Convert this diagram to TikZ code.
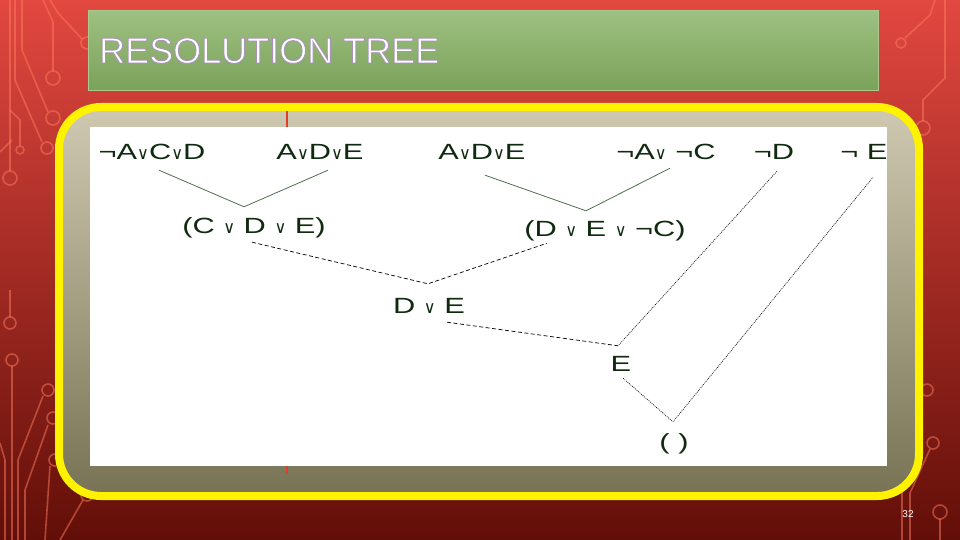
\documentclass[tikz,border=0pt]{standalone}
\usepackage{fontspec}
\setmainfont{Liberation Sans}
\newfontfamily\symfont{DejaVu Sans}
\usetikzlibrary{calc}

\definecolor{slidetop}{RGB}{226,72,64}
\definecolor{slidemid}{RGB}{196,52,46}
\definecolor{slidebot}{RGB}{98,14,8}
\definecolor{tracecol}{RGB}{255,125,95}
\definecolor{bartop}{RGB}{158,192,130}
\definecolor{barbot}{RGB}{122,162,89}
\definecolor{barline}{RGB}{172,200,142}
\definecolor{paneltop}{RGB}{208,201,178}
\definecolor{panelbot}{RGB}{120,115,84}
\definecolor{cltext}{RGB}{16,42,16}
\definecolor{edgegreen}{RGB}{80,110,80}
\definecolor{slideline}{RGB}{225,60,45}

\newcommand{\orv}{\scalebox{0.68}[1]{\symfont\fontsize{17}{17}\selectfont ∨}}
\newcommand{\widen}[1]{\scalebox{1.4}[1]{#1}}

\tikzset{
  clause/.style={inner sep=0pt, text height=16pt, text depth=0pt, text=cltext, font=\fontsize{22}{22}\selectfont},
  solidedge/.style={draw=edgegreen, line width=0.8pt},
  dashedge/.style={draw=black, line width=0.7pt, dash pattern=on 4pt off 2.5pt},
  dotedge/.style={draw=black, line width=0.6pt, dash pattern=on 1pt off 1pt},
  trace/.style={draw=tracecol, draw opacity=0.5, line width=1.6pt}
}

\begin{document}
\begin{tikzpicture}[x=1pt,y=-1pt]
\useasboundingbox (0,0) rectangle (960,540);
\shade[top color=slidetop, middle color=slidemid, bottom color=slidebot] (0,0) rectangle (960,540);

% circuit traces
\draw[trace] (43,0) -- (53,22) -- (53,71);
\draw[trace] (22,0) -- (22,50) -- (48,112);
\draw[trace] (15,0) -- (15,80) -- (42,142);
\draw[trace] (10,0) -- (10,171);
\draw[trace] (10,110) -- (20,120) -- (20,146);
\draw[trace] (0,152) -- (12,140);
\draw[trace] (50,0) -- (58,13) -- (82,39);
\draw[trace] (10,290) -- (10,317);
\draw[trace] (12,366) -- (12,540);
\draw[trace] (43,396) -- (18,460) -- (18,540);
\draw[trace] (48,425) -- (25,490) -- (25,540);
\draw[trace] (50,466) -- (45,540);
\draw[trace] (0,443) -- (5,460) -- (5,540);
\draw[trace] (83,500) -- (60,540);
\draw[trace] (905,38) -- (930,15) -- (935,0);
\draw[trace] (945,0) -- (945,78) -- (923,100) -- (923,121);
\draw[trace] (930,449) -- (910,493) -- (910,540);
\draw[trace] (902,480) -- (902,540);
\draw[trace] (940,519) -- (940,540);
\foreach \cx/\cy/\r in {53/78/7, 53/118/7, 47/148/6, 20/150/4, 10/178/7, 87/43/6,
  10/323/6, 12/360/6, 48/390/6, 53/418/6, 55/460/6, 87/495/6,
  901/43/5, 923/128/7, 927/390/6, 933/443/6, 940/512/7}
  \draw[trace] (\cx,\cy) circle[radius=\r];

% title bar
\shade[top color=bartop, bottom color=barbot, draw=barline, line width=1pt] (88,11) rectangle (878,91);

% panel
\shade[top color=paneltop, bottom color=panelbot, rounded corners=42pt] (59,107) rectangle (919,496);
\draw[yellow, line width=8pt, rounded corners=42pt] (59,107) rectangle (919,496);
\draw[slideline, line width=1.2pt] (287,111) -- (287,474);
\fill[white] (90,127) rectangle (887,466);

% clauses
\node[clause] (c1) at (152,152) {\widen{¬A\orv C\orv D}};
\node[clause] (c2) at (320,152) {\widen{A\orv D\orv E}};
\node[clause] (c3) at (482,152) {\widen{A\orv D\orv E}};
\node[clause] (c4) at (666,152) {\widen{¬A\orv{} ¬C}};
\node[clause] (c5) at (774,152) {\widen{¬D}};
\node[clause] (c6) at (864,152) {\widen{¬ E}};
\node[clause] (r1) at (254,225) {\widen{(C \orv{} D \orv{} E)}};
\node[clause] (r2) at (605,228) {\widen{(D \orv{} E \orv{} ¬C)}};
\node[clause] (r3) at (429,305) {\widen{D \orv{} E}};
\node[clause] (r4) at (621,363) {\widen{E}};
\node[clause] (r5) at (674,441) {\widen{( )}};

% resolution steps
\draw[solidedge] ($(c1.south)+(7,10)$) -- ($(r1.north)+(-10,-10)$) -- ($(c2.south)+(8,10)$);
\draw[solidedge] ($(c3.south)+(3,15)$) -- ($(r2.north)+(-19,-9)$) -- ($(c4.south)+(4,8)$);
\draw[dashedge] ($(r1.south)+(-2,9)$) -- ($(r3.north)+(-1,-13)$) -- ($(r2.south)+(-58,7)$);
\draw[dashedge] ($(r3.south)+(18,9)$) -- ($(r4.north)+(-3,-9)$);
\draw[dotedge] ($(c5.south)+(3,11)$) -- ($(r4.north)+(-3,-9)$);
\draw[dotedge] ($(r4.south)+(2,7)$) -- ($(r5.north)+(-1,-11)$) -- ($(c6.south)+(9,17)$);

\node[text=white, font=\fontsize{10}{10}\selectfont, inner sep=0pt] (pagenum) at (908,514) {32};
\node[anchor=base west, inner sep=0pt, text=white, font=\fontsize{36}{36}\selectfont] (title) at (99,63)
  {\special{pdf:literal direct q 2 Tr 0.9 w 0.66 0.58 0.72 RG}RESOLUTION TREE\special{pdf:literal direct Q}};
\end{tikzpicture}
\end{document}
